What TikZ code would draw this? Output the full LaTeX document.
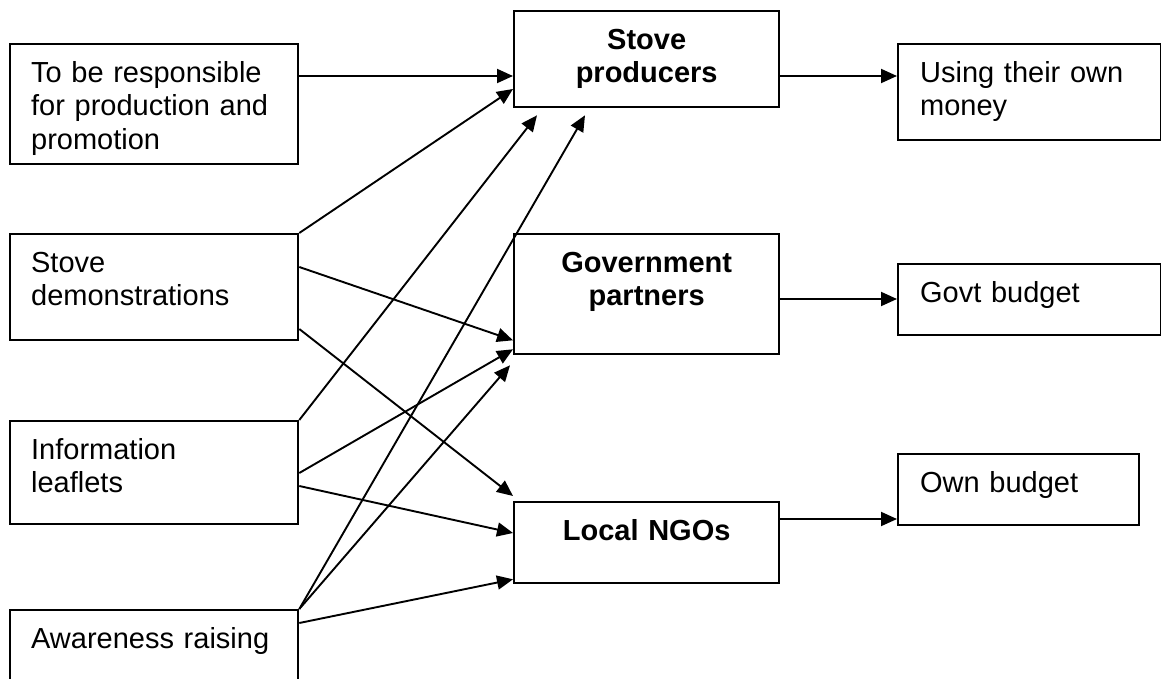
\documentclass[tikz,border=0pt]{standalone}
\usepackage{fontspec}
\setmainfont{Liberation Sans}
\usetikzlibrary{arrows.meta,calc}

\begin{document}
\begin{tikzpicture}[x=1pt,y=-1pt,
  every node/.style={font=\fontsize{29}{33.5}\selectfont},
  box/.style={draw, line width=2.3pt, anchor=north west, inner ysep=0pt,
    text height=38pt},
  leftbox/.style={box, inner xsep=21pt, text width=246pt, align=left},
  midbox/.style={box, inner xsep=10pt, text width=245pt, align=center,
    font=\fontsize{29}{33.5}\selectfont\bfseries},
  rightbox/.style={box, inner xsep=22pt, align=left},
  link/.style={line width=1.9pt, -{Triangle[length=16pt,width=14pt]}}
]
\useasboundingbox (0,0) rectangle (1161,679);

% activities
\node[leftbox, text depth=82pt] (resp) at (9,43)
  {To be responsible\\for production and\\promotion};
\node[leftbox, text depth=68pt] (demo) at (9,233)
  {Stove\\demonstrations};
\node[leftbox, text depth=65pt] (leaf) at (9,420)
  {Information\\leaflets};
\node[leftbox, text depth=62pt] (aware) at (9,609)
  {Awareness raising};

% actors
\node[midbox, text depth=58pt] (prod) at (513,10) {Stove\\producers};
\node[midbox, text depth=82pt] (gov) at (513,233) {Government\\partners};
\node[midbox, text depth=43pt] (ngo) at (513,501) {Local NGOs};

% funding
\node[rightbox, text width=219pt, text depth=58pt] (money) at (897,43)
  {Using their own\\money};
\node[rightbox, text width=219pt, text depth=33pt] (govb) at (897,263)
  {Govt budget};
\node[rightbox, text width=197pt, text depth=33pt] (ownb) at (897,453)
  {Own budget};

% activities -> actors
\draw[link] ($(resp.north east)+(0,33)$) -- ($(prod.north west)+(0,66)$);
\draw[link] (demo.north east) -- ($(prod.north west)+(0,79)$);
\draw[link] (leaf.north east) -- ($(prod.south west)+(24,7)$);
\draw[link] (aware.north east) -- ($(prod.south west)+(72,7)$);

\draw[link] ($(demo.north east)+(0,34)$) -- ($(gov.south west)+(0,-15)$);
\draw[link] ($(leaf.north east)+(0,53)$) -- ($(gov.south west)+(0,-6)$);
\draw[link] (aware.north east) -- ($(gov.south west)+(-3,10)$);

\draw[link] ($(demo.north east)+(0,96)$) -- ($(ngo.north west)+(0,-5)$);
\draw[link] ($(leaf.north east)+(0,66)$) -- ($(ngo.north west)+(0,32)$);
\draw[link] ($(aware.north east)+(0,14)$) -- ($(ngo.south west)+(0,-5)$);

% actors -> funding
\draw[link] ($(prod.north east)+(0,66)$) -- ($(money.north west)+(0,33)$);
\draw[link] ($(gov.north east)+(0,66)$) -- ($(govb.north west)+(0,36)$);
\draw[link] ($(ngo.north east)+(0,18)$) -- ($(ownb.north west)+(0,66)$);
\end{tikzpicture}
\end{document}
